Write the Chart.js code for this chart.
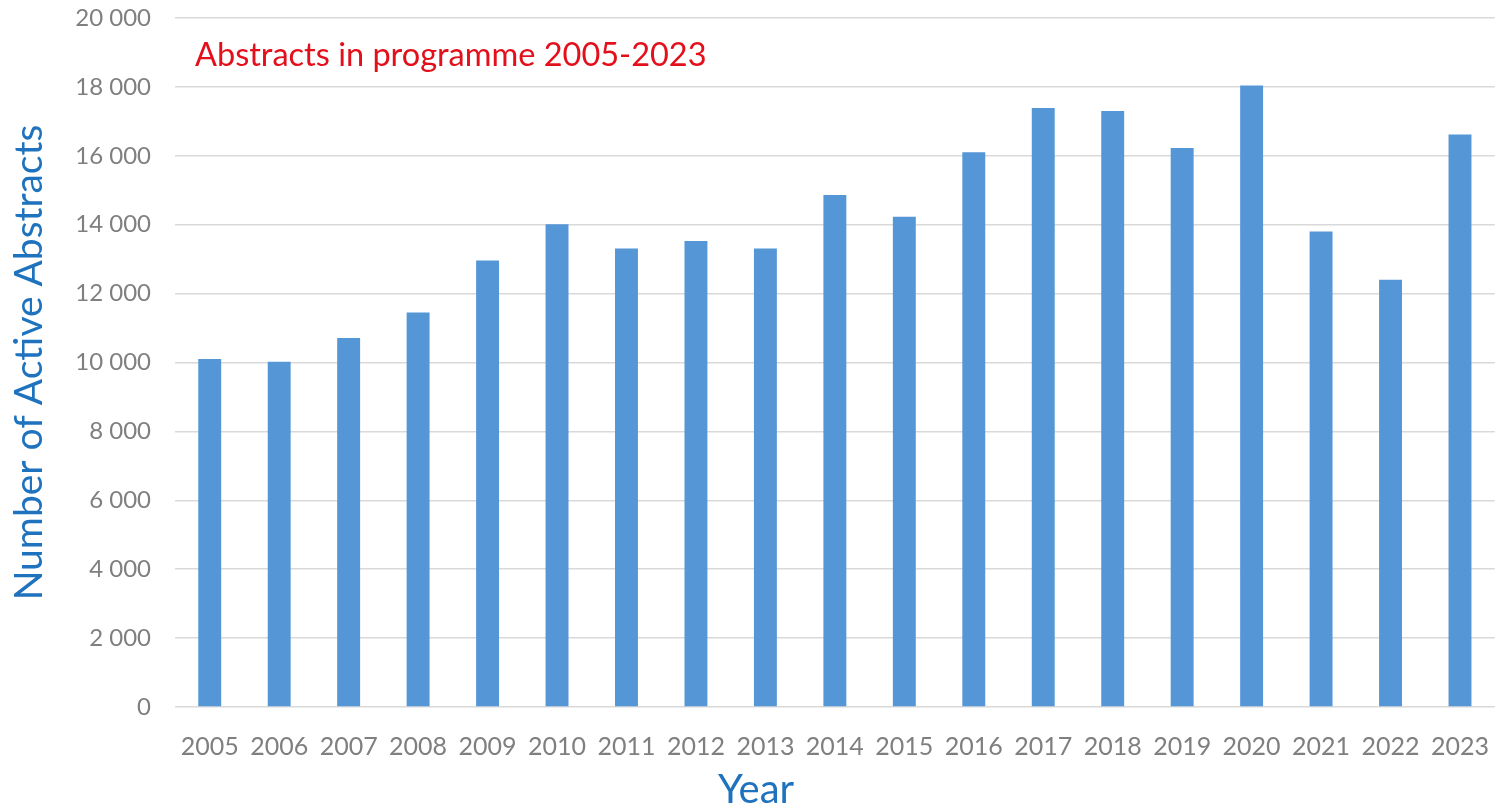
<!DOCTYPE html>
<html>
<head>
<meta charset="utf-8">
<script src="https://cdn.jsdelivr.net/npm/chart.js@4.4.0/dist/chart.umd.min.js"></script>
<style>
  html, body { margin: 0; padding: 0; background: #fff; overflow: hidden; }
  #wrap { width: 1506px; height: 807px; }
</style>
</head>
<body>
<div id="wrap"><canvas id="graf"></canvas></div>
<script>
const roky = ['2005', '2006', '2007', '2008', '2009', '2010', '2011', '2012', '2013', '2014',
              '2015', '2016', '2017', '2018', '2019', '2020', '2021', '2022', '2023'];
const abstrakty = [10100, 10020, 10710, 11450, 12960, 14010, 13310, 13530, 13310, 14860,
                   14230, 16100, 17390, 17300, 16230, 18040, 13800, 12400, 16620];
const nadpisGrafu = 'Abstracts in programme 2005-2023';
const popisX = 'Year';

const pismo = 'Lato, "Open Sans", sans-serif';

// nadpis uvnitr grafu a popis osy x (na stred celeho obrazku)
const nadpisPlugin = {
  id: 'nadpisUvnitr',
  afterDraw(chart) {
    const c = chart.ctx;
    c.save();
    c.font = '32.5px ' + pismo;
    c.fillStyle = '#e3101c';
    c.textBaseline = 'middle';
    c.fillText(nadpisGrafu, chart.chartArea.left + 20, 56);
    c.font = '40px ' + pismo;
    c.fillStyle = '#1f72bd';
    c.textAlign = 'center';
    c.fillText(popisX, 756, 790);
    c.restore();
  }
};

var data = {
  labels: roky,
  datasets: [{
    data: abstrakty,
    backgroundColor: '#5596d6',
    borderWidth: 0,
    categoryPercentage: 1,
    barPercentage: 0.33
  }]
};

var options = {
  animation: false,
  responsive: true,
  maintainAspectRatio: false,
  layout: { padding: 0 },
  plugins: { legend: { display: false }, tooltip: { enabled: false } },
  scales: {
    x: {
      grid: { display: false },
      border: { display: false },
      ticks: { color: '#7f7f7f', font: { family: pismo, size: 25 }, padding: 17, maxRotation: 0 },
      afterFit(scale) { scale.height = 100; }
    },
    y: {
      min: 0,
      max: 20000,
      grid: { color: '#d9d9d9', lineWidth: 1.5, drawTicks: false },
      border: { display: false },
      ticks: {
        stepSize: 2000,
        color: '#7f7f7f',
        font: { family: pismo, size: 24 },
        padding: 24,
        callback: v => v.toLocaleString('en-US').replace(/,/g, ' ')
      },
      title: { display: true, text: 'Number of Active Abstracts', color: '#1f72bd', font: { family: pismo, size: 39 }, padding: { top: 6, bottom: 0 } },
      afterFit(scale) {
        scale.width = 175;
        scale.paddingTop = 18;
        scale.paddingBottom = 0;
      }
    }
  }
};

const ctx = document.getElementById('graf').getContext('2d');
const myChart = new Chart(ctx, { type: 'bar', data, options, plugins: [nadpisPlugin] });
</script>
</body>
</html>
